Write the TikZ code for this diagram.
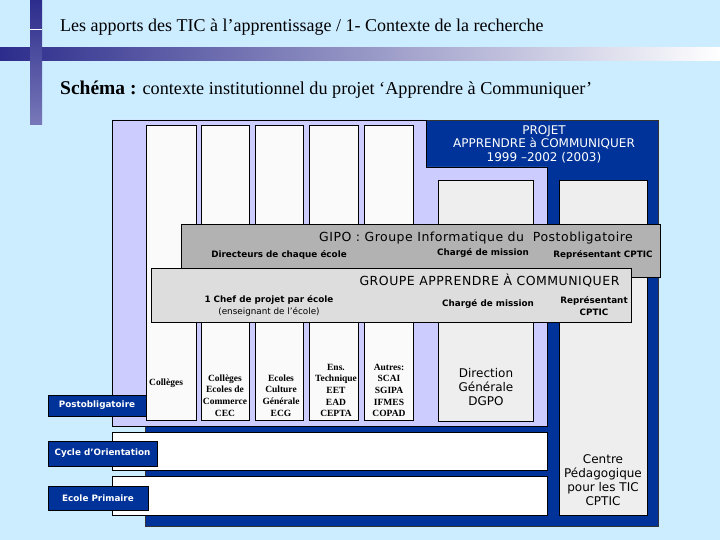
\documentclass[tikz,border=0pt]{standalone}
\usepackage{fontspec}
\setmainfont{Liberation Serif}
\newfontfamily\dsans{DejaVu Sans}
\newfontfamily\dsansw{DejaVu Sans}[LetterSpace=4]
\definecolor{bgblue}{RGB}{204,236,255}
\definecolor{bandblue}{RGB}{44,44,140}
\definecolor{barlow}{RGB}{120,120,185}
\definecolor{lav}{RGB}{204,204,255}
\definecolor{dblue}{RGB}{0,51,153}
\definecolor{gipo}{RGB}{178,178,178}
\definecolor{grp}{RGB}{221,221,221}
\definecolor{lgray}{RGB}{238,238,238}
\definecolor{colw}{RGB}{250,250,250}
\tikzset{
  colbox/.style={fill=colw, draw=black, line width=0.8pt},
  graybox/.style={fill=lgray, draw=black, line width=0.8pt},
  rowbox/.style={fill=white, draw=black, line width=0.8pt},
  lblbox/.style={fill=dblue, draw=black, line width=0.6pt},
  coltext/.style={font=\bfseries\fontsize{9.5}{11.7}\selectfont, align=center, inner sep=0pt},
  smallb/.style={font=\dsans\bfseries\fontsize{8.8}{12}\selectfont, inner sep=0pt, align=center},
  bigs/.style={font=\dsansw\fontsize{12.5}{13.5}\selectfont, inner sep=0pt, align=center},
  lbltext/.style={font=\dsans\bfseries\fontsize{8.8}{10}\selectfont, text=white, inner sep=0pt}
}
\begin{document}
\begin{tikzpicture}[x=1pt,y=-1pt]
\useasboundingbox (0,0) rectangle (720,540);
\fill[bgblue] (0,0) rectangle (720,540);
% decoration
\shade[left color=bandblue, right color=white] (0,48) rectangle (720,61);
\shade[top color=bandblue, bottom color=barlow] (30,0) rectangle (42,125);
\draw[white, line width=0.8pt] (30,29.5) -- (42,29.5);
% titles
\node[anchor=west, inner sep=0pt, font=\fontsize{18}{20}\selectfont] (title) at (60,27)
  {Les apports des TIC à l’apprentissage / 1- Contexte de la recherche};
\node[anchor=west, inner sep=0pt, font=\fontsize{18.2}{20}\selectfont] (sub) at (60,90)
  {{\fontsize{19.5}{20}\selectfont\textbf{Schéma :}} contexte institutionnel du projet ‘Apprendre à Communiquer’};
% frame
\filldraw[fill=dblue, draw=black!80, line width=0.5pt] (145,120) rectangle (658,526);
\filldraw[fill=lav, draw=black, line width=0.6pt]
  (112,120) -- (426,120) -- (426,167) -- (547,167) -- (547,426) -- (112,426) -- cycle;
% columns
\draw[colbox] (146,125) rectangle (196,420);
\draw[colbox] (201,125) rectangle (249,420);
\draw[colbox] (255,125) rectangle (303,420);
\draw[colbox] (309,125) rectangle (358,420);
\draw[colbox] (364,125) rectangle (413,420);
\draw[graybox] (438,180) rectangle (533,421);
\draw[graybox] (559,180) rectangle (647,515);
% GIPO and GROUPE
\draw[fill=gipo, draw=black, line width=0.7pt] (181,224) rectangle (660,277);
\draw[fill=grp, draw=black, line width=0.7pt] (151,268) rectangle (631,322);
% rows
\draw[rowbox] (112,432) rectangle (547,470);
\draw[rowbox] (112,476) rectangle (547,515);
% labels
\draw[lblbox] (48,395) rectangle (146,416);
\draw[lblbox] (48,441) rectangle (157,466);
\draw[lblbox] (48,486) rectangle (148,510);
\node[lbltext] (post) at (97,405.5) {Postobligatoire};
\node[lbltext] (cycle) at (102.5,453.5) {Cycle d’Orientation};
\node[lbltext] (prim) at (98,498) {Ecole Primaire};
% project
\node[font=\dsans\fontsize{12}{13.5}\selectfont, align=center, inner sep=0pt, text=white] (projet) at (544,144) {PROJET\\APPRENDRE à COMMUNIQUER\\1999 –2002 (2003)};
% GIPO texts
\node[bigs, anchor=east] (gipot) at (633,238) {GIPO : Groupe Informatique du\ \ Postobligatoire};
\node[smallb] (dir) at (279,255) {Directeurs de chaque école};
\node[smallb] (cm1) at (483,253) {Chargé de mission};
\node[smallb] (rep1) at (603,255) {Représentant CPTIC};
% GROUPE texts
\node[bigs] (grpt) at (489.5,281) {GROUPE APPRENDRE À COMMUNIQUER};
\node[smallb] (chef) at (269,306) {1 Chef de projet par école\\{\mdseries(enseignant de l’école)}};
\node[smallb] (cm2) at (488,304) {Chargé de mission};
\node[smallb] (rep2) at (594,306) {Représentant\\CPTIC};
% column texts
\node[coltext, anchor=west] (c1) at (149,383) {Collèges};
\node[coltext] (c2) at (225,395.5) {Collèges\\Ecoles de\\Commerce\\CEC};
\node[coltext] (c3) at (281,395.5) {Ecoles\\Culture\\Générale\\ECG};
\node[coltext] (c4) at (336,390.5) {Ens.\\Technique\\EET\\EAD\\CEPTA};
\node[coltext] (c5) at (389,390.5) {Autres:\\SCAI\\SGIPA\\IFMES\\COPAD};
% gray boxes texts
\node[font=\dsans\fontsize{12}{14}\selectfont, align=center, inner sep=0pt] (dgpo) at (486,387) {Direction\\Générale\\DGPO};
\node[font=\dsans\fontsize{12}{14}\selectfont, align=center, inner sep=0pt] (cptic) at (603,480) {Centre\\Pédagogique\\pour les TIC\\CPTIC};
\end{tikzpicture}
\end{document}
